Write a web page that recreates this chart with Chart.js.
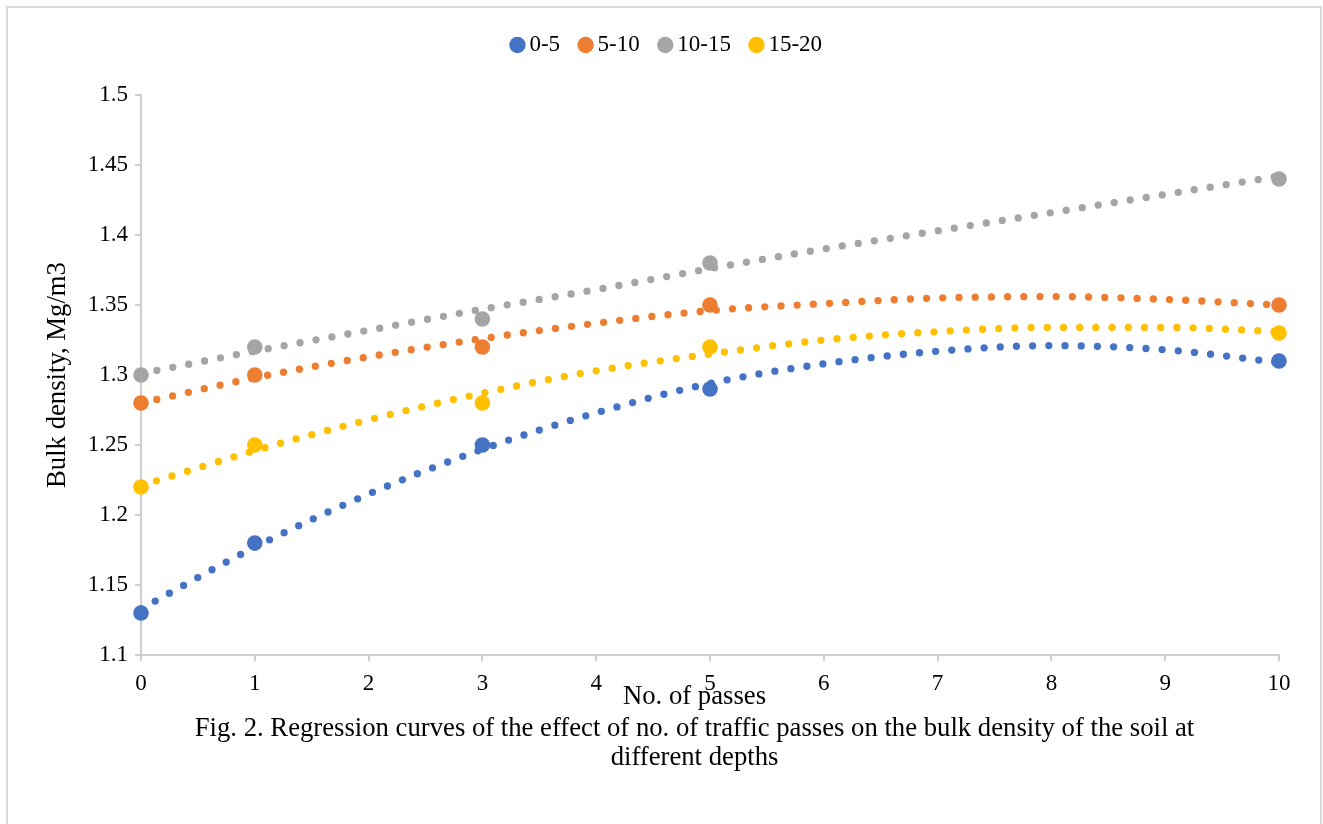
<!DOCTYPE html>
<html>
<head>
<meta charset="utf-8">
<script src="https://cdn.jsdelivr.net/npm/chart.js@4.4.1/dist/chart.umd.min.js"></script>
<style>
html,body{margin:0;padding:0;background:#fff;overflow:hidden;width:1323px;height:824px;}
#frame{position:absolute;left:6px;top:6px;width:1312px;height:900px;border:2px solid #d9d9d9;box-sizing:content-box;}
#c{position:absolute;left:0;top:0;}
</style>
</head>
<body>
<div id="frame"></div>
<canvas id="c" width="1323" height="824"></canvas>
<script>
// ---- data ----
const seriesNames = ['0-5', '5-10', '10-15', '15-20'];
const seriesColors = ['#4472C4', '#ED7D31', '#A5A5A5', '#FFC000'];
const passes = [0, 1, 3, 5, 10];
const bd_0_5   = [1.13, 1.18, 1.25, 1.29, 1.31];
const bd_5_10  = [1.28, 1.30, 1.32, 1.35, 1.35];
const bd_10_15 = [1.30, 1.32, 1.34, 1.38, 1.44];
const bd_15_20 = [1.22, 1.25, 1.28, 1.32, 1.33];
// dotted regression (trend) curves, read at each whole number of passes
const trendX      = [0, 1, 2, 3, 4, 5, 6, 7, 8, 9, 10];
const trend_0_5   = [1.133, 1.177, 1.215, 1.247, 1.273, 1.294, 1.308, 1.317, 1.321, 1.318, 1.309];
const trend_5_10  = [1.280, 1.298, 1.313, 1.326, 1.337, 1.346, 1.351, 1.355, 1.356, 1.354, 1.350];
const trend_10_15 = [1.301, 1.317, 1.332, 1.347, 1.361, 1.376, 1.390, 1.403, 1.416, 1.429, 1.442];
const trend_15_20 = [1.221, 1.246, 1.268, 1.287, 1.303, 1.315, 1.325, 1.331, 1.334, 1.334, 1.331];
const xTicks = [0, 1, 2, 3, 4, 5, 6, 7, 8, 9, 10];
const yTicks = [1.1, 1.15, 1.2, 1.25, 1.3, 1.35, 1.4, 1.45, 1.5];
const xTitle = 'No. of passes';
const yTitle = 'Bulk density, Mg/m3';
const caption = ['Fig. 2. Regression curves of the effect of no. of traffic passes on the bulk density of the soil at', 'different depths'];

// ---- build chart ----
const FONT = "'Liberation Serif', 'Times New Roman', serif";
Chart.defaults.font.family = FONT;
Chart.defaults.color = '#000';

const pointSeries = [bd_0_5, bd_5_10, bd_10_15, bd_15_20];
const trendSeries = [trend_0_5, trend_5_10, trend_10_15, trend_15_20];

const datasets = [];
seriesNames.forEach((name, i) => {
  datasets.push({
    label: name,
    data: passes.map((x, j) => ({x: x, y: pointSeries[i][j]})),
    backgroundColor: seriesColors[i],
    borderColor: seriesColors[i],
    pointRadius: 7.8,
    pointHoverRadius: 7.8,
    pointBorderWidth: 0,
    pointStyle: 'circle',
    showLine: false,
    clip: false,
    order: 0
  });
});
seriesNames.forEach((name, i) => {
  datasets.push({
    label: 'Poly. (' + name + ')',
    data: trendX.map((x, j) => ({x: x, y: trendSeries[i][j]})),
    borderColor: seriesColors[i],
    backgroundColor: seriesColors[i],
    showLine: true,
    pointRadius: 0,
    pointHoverRadius: 0,
    borderWidth: 7.3,
    borderDash: [0, 16.2],
    borderCapStyle: 'round',
    borderJoinStyle: 'round',
    cubicInterpolationMode: 'monotone',
    clip: false,
    order: 1
  });
});

const LEGEND_H = 86.5;
const LEGEND_DX = 30;
const CAPTION_DX = 55;
const XTITLE_DX = -15.5;

const layoutTweaks = {
  id: 'layoutTweaks',
  beforeLayout(chart) {
    const lg = chart.legend;
    if (lg && !lg.__patched) {
      const f = lg.fit;
      lg.fit = function () { f.call(this); this.height = LEGEND_H; };
      lg.__patched = true;
    }
  },
  afterLayout(chart) {
    if (chart.legend) { chart.legend.left += LEGEND_DX; chart.legend.right += LEGEND_DX; }
    if (chart.titleBlock) { chart.titleBlock.left += CAPTION_DX; chart.titleBlock.right += CAPTION_DX; }
    const xs = chart.scales.x;
    if (xs && !xs.__patched) {
      const dt = xs.drawTitle;
      xs.drawTitle = function () {
        this.ctx.save();
        this.ctx.translate(XTITLE_DX, 0);
        dt.call(this);
        this.ctx.restore();
      };
      xs.__patched = true;
    }
  }
};

const axisColor = '#CFCFCF';

new Chart(document.getElementById('c'), {
  type: 'scatter',
  data: { datasets },
  plugins: [layoutTweaks],
  options: {
    responsive: false,
    animation: false,
    events: [],
    devicePixelRatio: 1,
    layout: { padding: { left: 0, right: 44, top: 8.5, bottom: 0 } },
    plugins: {
      tooltip: { enabled: false },
      legend: {
        display: true,
        position: 'top',
        align: 'center',
        labels: {
          usePointStyle: true,
          pointStyle: 'circle',
          boxWidth: 1,
          boxHeight: 11.6,
          padding: 25,
          color: '#000',
          font: { size: 23, family: FONT },
          filter: (item) => item.datasetIndex < seriesNames.length
        }
      },
      title: {
        display: true,
        position: 'bottom',
        text: caption,
        color: '#000',
        font: { size: 26.7, weight: 'normal', family: FONT, lineHeight: 1.101 },
        padding: { top: 2, bottom: 51.2 }
      }
    },
    scales: {
      x: {
        type: 'linear',
        min: 0,
        max: 10,
        afterBuildTicks: (s) => { s.ticks = xTicks.map(v => ({value: v})); },
        afterFit: (s) => { s.height = 57; },
        ticks: { color: '#000', font: { size: 23, family: FONT }, padding: 9, maxRotation: 0 },
        grid: { display: true, drawOnChartArea: false, drawTicks: true, tickLength: 6, color: axisColor, lineWidth: 2 },
        border: { display: true, color: axisColor, width: 2 },
        title: { display: true, text: xTitle, color: '#000', font: { size: 26.7, family: FONT, lineHeight: 1.1236 }, padding: { top: 0, bottom: 0 } }
      },
      y: {
        type: 'linear',
        min: 1.1,
        max: 1.5,
        afterBuildTicks: (s) => { s.ticks = yTicks.map(v => ({value: v})); },
        afterFit: (s) => { s.width = 141; },
        ticks: {
          color: '#000',
          font: { size: 23, family: FONT },
          padding: 7,
          callback: (v) => String(Math.round(v * 100) / 100)
        },
        grid: { display: true, drawOnChartArea: false, drawTicks: true, tickLength: 6, color: axisColor, lineWidth: 2 },
        border: { display: true, color: axisColor, width: 2 },
        title: { display: true, text: yTitle, color: '#000', font: { size: 26.7, family: FONT }, padding: { top: 42, bottom: 0 } }
      }
    }
  }
});
</script>
</body>
</html>
